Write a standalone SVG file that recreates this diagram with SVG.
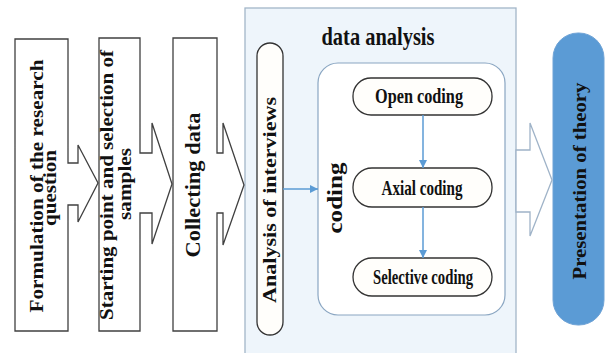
<svg xmlns="http://www.w3.org/2000/svg" width="611" height="353" viewBox="0 0 611 353">
<defs>
<style>
.box{fill:#ffffff;stroke:#404040;stroke-width:1.3;stroke-linejoin:miter}
.t{font-family:"Liberation Serif","Times New Roman",serif;font-weight:bold;fill:#111;text-anchor:middle}
.pill{fill:#fffefb;stroke:#333;stroke-width:1.3}
.blue{stroke:#5b9bd5;stroke-width:1.5;fill:none}
</style>
<marker id="ah" viewBox="0 0 10 10" refX="10" refY="5" markerWidth="8" markerHeight="8" markerUnits="userSpaceOnUse" orient="auto">
<path d="M0,0 L10,5 L0,10 Z" fill="#5b9bd5"/>
</marker>
</defs>
<rect x="0" y="0" width="611" height="353" fill="#ffffff"/>

<g id="panel-data-analysis">
<rect x="245" y="8" width="271" height="350" fill="#eef5fb" stroke="#a3b6c8" stroke-width="1.3"/>
<text class="t" x="378" y="45" font-size="25" textLength="113" lengthAdjust="spacingAndGlyphs">data analysis</text>
</g>

<g id="node-formulation">
<polygon class="box" points="15,39 68,39 68,163 78,163 78,145 98,183 78,222 78,205 68,205 68,331 15,331"/>
<text class="t" font-size="19" transform="translate(43,186) rotate(-90)" textLength="253" lengthAdjust="spacingAndGlyphs">Formulation of the research</text>
<text class="t" font-size="19" transform="translate(56,188) rotate(-90)" textLength="76" lengthAdjust="spacingAndGlyphs">question</text>
</g>

<g id="node-starting-point">
<polygon class="box" points="99,38 140,38 140,153 152,153 152,123 172,184 152,244 152,213 140,213 140,331 99,331"/>
<text class="t" font-size="19" transform="translate(113,185) rotate(-90)" textLength="270" lengthAdjust="spacingAndGlyphs">Starting point and selection of</text>
<text class="t" font-size="19" transform="translate(131,184) rotate(-90)" textLength="72" lengthAdjust="spacingAndGlyphs">samples</text>
</g>

<g id="node-collecting">
<polygon class="box" points="173,38 217,38 217,153 223,153 223,123 244,185 223,245 223,213 217,213 217,331 173,331"/>
<text class="t" font-size="20" transform="translate(200,185) rotate(-90)" textLength="145" lengthAdjust="spacingAndGlyphs">Collecting data</text>
</g>

<g id="node-analysis-interviews">
<rect class="pill" x="257" y="43" width="26" height="292" rx="13" ry="13"/>
<text class="t" font-size="18" transform="translate(276,200) rotate(-90)" textLength="206" lengthAdjust="spacingAndGlyphs">Analysis of interviews</text>
</g>

<g id="node-coding">
<rect x="318" y="63" width="187" height="252" rx="20" ry="20" fill="#ffffff" stroke="#8aa6c2" stroke-width="1.2"/>
<text class="t" font-size="22" transform="translate(342,198) rotate(-90)" textLength="71" lengthAdjust="spacingAndGlyphs">coding</text>
</g>

<g id="node-open-coding">
<rect class="pill" x="353" y="78" width="139" height="37" rx="18" ry="18"/>
<text class="t" font-size="21" x="419" y="103" textLength="88" lengthAdjust="spacingAndGlyphs">Open coding</text>
</g>

<g id="node-axial-coding">
<rect class="pill" x="353" y="168" width="139" height="39" rx="19" ry="19"/>
<text class="t" font-size="21" x="422" y="195" textLength="81" lengthAdjust="spacingAndGlyphs">Axial coding</text>
</g>

<g id="node-selective-coding">
<rect class="pill" x="353" y="258" width="139" height="38" rx="19" ry="19"/>
<text class="t" font-size="21" x="423" y="284" textLength="100" lengthAdjust="spacingAndGlyphs">Selective coding</text>
</g>

<g id="node-presentation">
<rect x="553" y="33" width="51" height="292" rx="25" ry="25" fill="#5b9bd5" stroke="#6fa3d6" stroke-width="1"/>
<text class="t" font-size="19" transform="translate(586,181) rotate(-90)" textLength="197" lengthAdjust="spacingAndGlyphs">Presentation of theory</text>
</g>

<g id="connectors">
<polygon points="516,150 530,150 530,123 552,180 530,236 530,212 516,212" fill="#ffffff" stroke="#9fb3c8" stroke-width="1.3"/>
<line class="blue" x1="283" y1="189" x2="318" y2="189" marker-end="url(#ah)"/>
<line class="blue" x1="423" y1="115" x2="423" y2="168" marker-end="url(#ah)"/>
<line class="blue" x1="423" y1="207" x2="423" y2="258" marker-end="url(#ah)"/>
</g>
</svg>
